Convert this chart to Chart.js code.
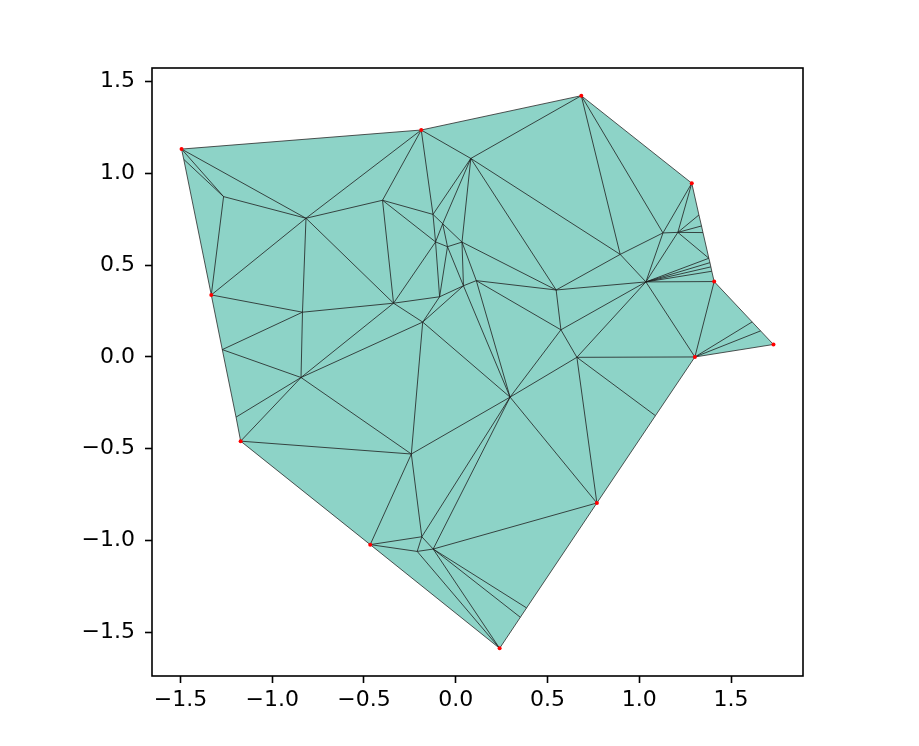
<!DOCTYPE html>
<html>
<head>
<meta charset="utf-8">
<script src="https://cdn.jsdelivr.net/npm/chart.js@4.4.1/dist/chart.umd.min.js"></script>
<style>
  body { margin: 0; background: #fff; }
  canvas { display: block; }
</style>
</head>
<body>
<canvas id="tri" width="919" height="746"></canvas>
<script>
// vertex coordinates
const vx = [-1.494, -0.188, 0.684, 1.286, 1.408, 1.731, 1.303, 0.769, 0.239, -0.466, -1.172, -1.332,
  -1.482, -1.272, -1.197, 1.325, 1.339, 1.347, 1.379, 1.385, 1.390, 1.395, 1.615, 1.661, 1.088, 0.386, 0.352,
  -1.265, -0.816, -0.399, 0.082, -0.124, -0.071, -0.110, -0.045, 0.034, 0.112, 0.042, -0.088, -0.339, -0.835,
  -0.843, -0.180, 0.296, -0.242, 0.547, 0.573, 0.660, 0.896, 1.036, 1.129, 1.210, -0.185, -0.123, -0.210];
const vy = [1.133, 1.237, 1.424, 0.947, 0.411, 0.068, 0.000, -0.796, -1.588, -1.023, -0.459, 0.338,
  1.077, 0.040, -0.328, 0.774, 0.714, 0.678, 0.538, 0.514, 0.491, 0.467, 0.191, 0.142, -0.320, -1.368, -1.419,
  0.874, 0.756, 0.854, 1.082, 0.777, 0.726, 0.627, 0.601, 0.626, 0.416, 0.388, 0.328, 0.293, 0.244,
  -0.112, 0.190, -0.219, -0.529, 0.365, 0.148, -0.002, 0.559, 0.409, 0.676, 0.679, -0.980, -1.047, -1.060];

// outline of the mesh, in order
const boundary = [0, 1, 2, 3, 15, 16, 17, 18, 19, 20, 21, 4, 22, 23, 5, 6, 24, 7, 25, 26, 8, 9, 10, 14, 13, 11, 12];

// inner edges of the triangulation
const edges = [[0,27],[12,27],[0,28],[27,28],[27,11],[11,28],[28,1],[28,29],[28,39],[28,40],[11,40],[40,39],
  [40,41],[13,40],[13,41],[14,41],[10,41],[41,39],[41,42],[41,44],[10,44],[44,9],[44,42],[44,43],[44,52],
  [9,52],[9,54],[52,54],[52,53],[54,53],[54,8],[53,8],[53,26],[53,25],[53,7],[52,43],[53,43],[43,7],[43,47],
  [43,46],[43,36],[43,37],[43,42],[42,39],[42,38],[42,37],[38,39],[38,33],[38,34],[38,37],[37,34],[37,36],
  [37,35],[36,35],[36,45],[36,46],[35,34],[35,32],[35,30],[35,45],[34,33],[34,32],[33,32],[33,31],[33,29],
  [33,39],[29,39],[29,1],[29,31],[31,1],[31,30],[31,32],[32,30],[30,1],[30,2],[30,48],[30,45],[45,48],[45,49],
  [45,46],[46,49],[46,47],[47,49],[47,6],[47,24],[47,7],[49,6],[49,4],[49,18],[49,19],[49,20],[49,21],[49,48],
  [49,50],[49,51],[51,18],[51,17],[51,16],[51,15],[51,3],[51,50],[50,3],[50,2],[50,48],[48,2],[6,4],[6,22],[6,23]];

// the red marked points
const marked = [0, 1, 2, 3, 4, 5, 6, 7, 8, 9, 10, 11];

const xTicks = [-1.5, -1.0, -0.5, 0.0, 0.5, 1.0, 1.5];
const yTicks = [-1.5, -1.0, -0.5, 0.0, 0.5, 1.0, 1.5];

const pt = i => ({ x: vx[i], y: vy[i] });

const datasets = [];

// filled outline
datasets.push({
  data: boundary.concat([boundary[0]]).map(pt),
  showLine: true,
  fill: 'shape',
  backgroundColor: '#8dd3c7',
  borderColor: '#2a2a2a',
  borderWidth: 0.8,
  pointRadius: 0,
  order: 3
});

// every inner edge as its own little line
for (let e of edges) {
  datasets.push({
    data: [pt(e[0]), pt(e[1])],
    showLine: true,
    fill: false,
    borderColor: '#1e1e1e',
    borderWidth: 0.8,
    pointRadius: 0,
    order: 2
  });
}

datasets.push({
  data: marked.map(pt),
  showLine: false,
  pointRadius: 2,
  pointBackgroundColor: '#ff0000',
  pointBorderWidth: 0,
  order: 1
});

const frame = {
  id: 'frame',
  afterDraw(chart) {
    const a = chart.chartArea, c = chart.ctx;
    c.save();
    c.strokeStyle = '#000';
    c.lineWidth = 1.6;
    c.strokeRect(a.left, a.top, a.right - a.left, a.bottom - a.top);
    c.restore();
  }
};

const fmt = v => (v < 0 ? '\u2212' : '') + Math.abs(v).toFixed(1);

new Chart(document.getElementById('tri'), {
  type: 'scatter',
  data: { datasets: datasets },
  options: {
    responsive: false,
    animation: false,
    layout: { padding: { left: 0, top: 68, right: 116, bottom: 0 } },
    plugins: { legend: { display: false }, tooltip: { enabled: false } },
    scales: {
      x: {
        min: -1.655, max: 1.892,
        afterBuildTicks: s => { s.ticks = xTicks.map(v => ({ value: v })); },
        afterFit: s => { s.height = 70; },
        grid: { drawOnChartArea: false, tickLength: 7, tickColor: '#000', tickWidth: 1.6 },
        border: { display: false },
        ticks: { callback: fmt, color: '#000', padding: 4, maxRotation: 0,
                 font: { family: 'DejaVu Sans', size: 22 } }
      },
      y: {
        min: -1.739, max: 1.575,
        afterBuildTicks: s => { s.ticks = yTicks.map(v => ({ value: v })); },
        afterFit: s => { s.width = 152; },
        grid: { drawOnChartArea: false, tickLength: 7, tickColor: '#000', tickWidth: 1.6 },
        border: { display: false },
        ticks: { callback: fmt, color: '#000', padding: 10,
                 font: { family: 'DejaVu Sans', size: 22 } }
      }
    }
  },
  plugins: [frame]
});
</script>
</body>
</html>
